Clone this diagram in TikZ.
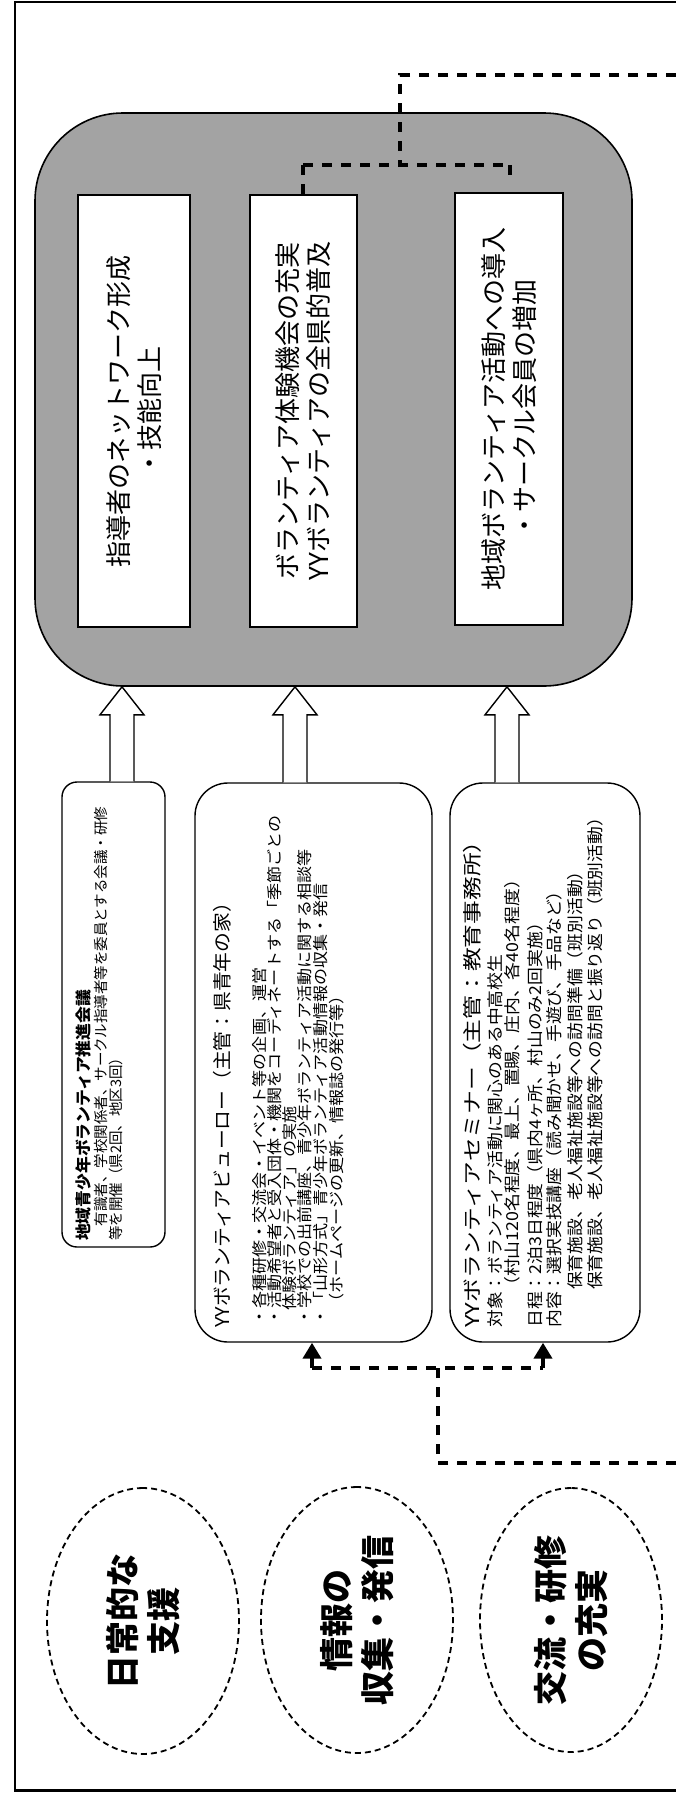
\documentclass[tikz,border=0pt]{standalone}
\usepackage{fontspec}
\newfontfamily\jp{Noto Sans CJK JP}
\usetikzlibrary{shapes.geometric,arrows.meta,calc}
\newcommand\jf[3]{\jp\fontsize{#2}{#3}\selectfont\addfontfeature{FakeStretch=#1}}
\newcommand\jb[3]{\jp\bfseries\fontsize{#2}{#3}\selectfont\addfontfeature{FakeStretch=#1}}
\begin{document}
\begin{tikzpicture}[x=1pt,y=-1pt,
  frame/.style={line width=2.4pt},
  bigbox/.style={draw, line width=1.6pt, fill=black!36, rounded corners=88pt, inner sep=0},
  goal/.style={draw, line width=1.5pt, fill=white, rotate=90, inner sep=0, align=center},
  act/.style={draw, line width=1.4pt, fill=white, rotate=90, inner sep=0},
  txt/.style={rotate=90, anchor=west, inner sep=0},
  blk/.style={draw, line width=1.4pt, fill=white, line join=miter},
  conn/.style={line width=4.5pt, dash pattern=on 10pt off 9pt},
  tipc/.style={line width=4.5pt, -{Triangle[width=18pt,length=16pt]}},
  ell/.style={ellipse, draw, line width=1.8pt, dash pattern=on 6pt off 4pt, rotate=90, inner sep=0, align=center},
]
\useasboundingbox (0,0) rectangle (676,1793);
\fill[white] (0,0) rectangle (676,1793);
\draw[frame] (676,2) -- (15,2) -- (15,1790.5) -- (676,1790.5);

% big outcome box
\node[bigbox, minimum width=597pt, minimum height=573pt] (big) at (333.5,399.5) {};
\node[goal, minimum width=432pt, minimum height=112pt, font=\jf{1}{26}{31}] (gA) at (134,411) {指導者のネットワーク形成\\・技能向上};
\node[goal, minimum width=432pt, minimum height=107pt, font=\jf{1}{26}{31}] (gB) at (303.5,411) {ボランティア体験機会の充実\\YYボランティアの全県的普及};
\node[goal, minimum width=432pt, minimum height=108pt, font=\jf{1}{26}{31}] (gC) at (509,409) {地域ボランティア活動への導入\\・サークル会員の増加};

% activity boxes
\node[act, rounded corners=15pt, minimum width=465pt, minimum height=103pt] (act1) at (113.5,1014.5) {};
\node[act, rounded corners=33pt, minimum width=559pt, minimum height=237pt] (act2) at (313.5,1062.5) {};
\node[act, rounded corners=33pt, minimum width=559pt, minimum height=190pt] (act3) at (545,1062.5) {};

% block arrows
\path (122,0) coordinate (x1) (295,0) coordinate (x2) (507,0) coordinate (x3);
\foreach \i in {1,2,3}{
  \draw[blk] ($(x\i|-act\i.east)+(-12,0)$) -- ($(x\i|-big.south)+(-12,28)$) -- ($(x\i|-big.south)+(-22,28)$) -- (x\i|-big.south) -- ($(x\i|-big.south)+(22,28)$) -- ($(x\i|-big.south)+(12,28)$) -- ($(x\i|-act\i.east)+(12,0)$);
}

% box 1 text
\node[txt, font=\jb{1.05}{16}{16}] (a1t) at (83,1241) {地域青少年ボランティア推進会議};
\node[txt, font=\jf{1}{14.5}{14.5}] (a1b) at (101,1241) {　有識者、学校関係者、サークル指導者等を委員とする会議・研修};
\node[txt, font=\jf{1}{14.5}{14.5}] (a1c) at (116,1241) {等を開催（県2回、地区3回）};

% box 2 text
\node[txt, font=\jf{1.04}{19}{19}] (a2t) at (222,1328) {YYボランティアビューロー（主管：県青年の家）};
\node[txt, font=\jf{1.1}{15.5}{15.5}] (a2a) at (260,1326) {・各種研修・交流会・イベント等の企画、運営};
\node[txt, font=\jf{1.1}{15.5}{15.5}] (a2b) at (275,1326) {・活動希望者と受入団体・機関をコーディネートする「季節ごとの};
\node[txt, font=\jf{1.1}{15.5}{15.5}] (a2c) at (290,1326) {\hspace*{1em}体験ボランティア」の実施};
\node[txt, font=\jf{1.1}{15.5}{15.5}] (a2d) at (305,1326) {・学校での出前講座、青少年ボランティア活動に関する相談等};
\node[txt, font=\jf{1.1}{15.5}{15.5}] (a2e) at (321,1326) {・「山形方式」青少年ボランティア活動情報の収集・発信};
\node[txt, font=\jf{1.1}{15.5}{15.5}] (a2f) at (337,1326) {\hspace*{1em}（ホームページの更新、情報誌の発行等）};

% box 3 text
\node[txt, font=\jf{1.25}{19}{19}] (a3t) at (472,1328) {YYボランティアセミナー（主管：教育事務所）};
\node[txt, font=\jf{1.08}{16.5}{16.5}] (a3a) at (495,1328) {対象：ボランティア活動に関心のある中高校生};
\node[txt, font=\jf{1.08}{16.5}{16.5}] (a3b) at (512,1328) {\hspace*{2em}（村山120名程度、最上、置賜、庄内、各40名程度）};
\node[txt, font=\jf{1.08}{16.5}{16.5}] (a3c) at (535,1328) {日程：2泊3日程度（県内4ヶ所、村山のみ2回実施）};
\node[txt, font=\jf{1.08}{16.5}{16.5}] (a3d) at (554,1328) {内容：選択実技講座（読み聞かせ、手遊び、手品など）};
\node[txt, font=\jf{1.08}{16.5}{16.5}] (a3e) at (575,1328) {\hspace*{2.3em}保育施設、老人福祉施設等への訪問準備（班別活動）};
\node[txt, font=\jf{1.08}{16.5}{16.5}] (a3f) at (595,1328) {\hspace*{2.3em}保育施設、老人福祉施設等への訪問と振り返り（班別活動）};

% ellipses
\node[ell, minimum width=266pt, minimum height=192pt, font=\jb{1}{34}{41}] (e1) at (143,1621) {日常的な\\支援};
\node[ell, minimum width=266pt, minimum height=192pt, font=\jb{1}{34}{41}] (e2) at (357,1620) {情報の\\収集・発信};
\node[ell, minimum width=264pt, minimum height=182pt, font=\jb{1}{34}{41}] (e3) at (571,1620) {交流・研修\\の充実};

% top dashed connector
\coordinate (tR) at (676,75);
\coordinate (tJ) at (400,75);
\coordinate (tM) at (400,165);
\coordinate (tL) at (303,165);
\coordinate (tK) at (510,165);
\coordinate (tCs) at (510,182);
\draw[conn] (tR) -- (tJ) -- (tM);
\draw[conn] (tL) -- (tK);
\draw[conn] (tL) -- (tL|-gB.east);
\draw[conn] (tK) -- (tCs);

% bottom dashed connector
\coordinate (bA) at (312,1368);
\coordinate (bB) at (543,1368);
\coordinate (bM) at (438,1368);
\coordinate (bD) at (438,1463);
\coordinate (bR) at (676,1463);
\draw[conn] (bA) -- (bB);
\draw[conn] (bR) -- (bD) -- (bM);
\draw[tipc] (bA) -- (bA|-act2.west);
\draw[tipc] (bB) -- (bB|-act3.west);
\end{tikzpicture}
\end{document}
